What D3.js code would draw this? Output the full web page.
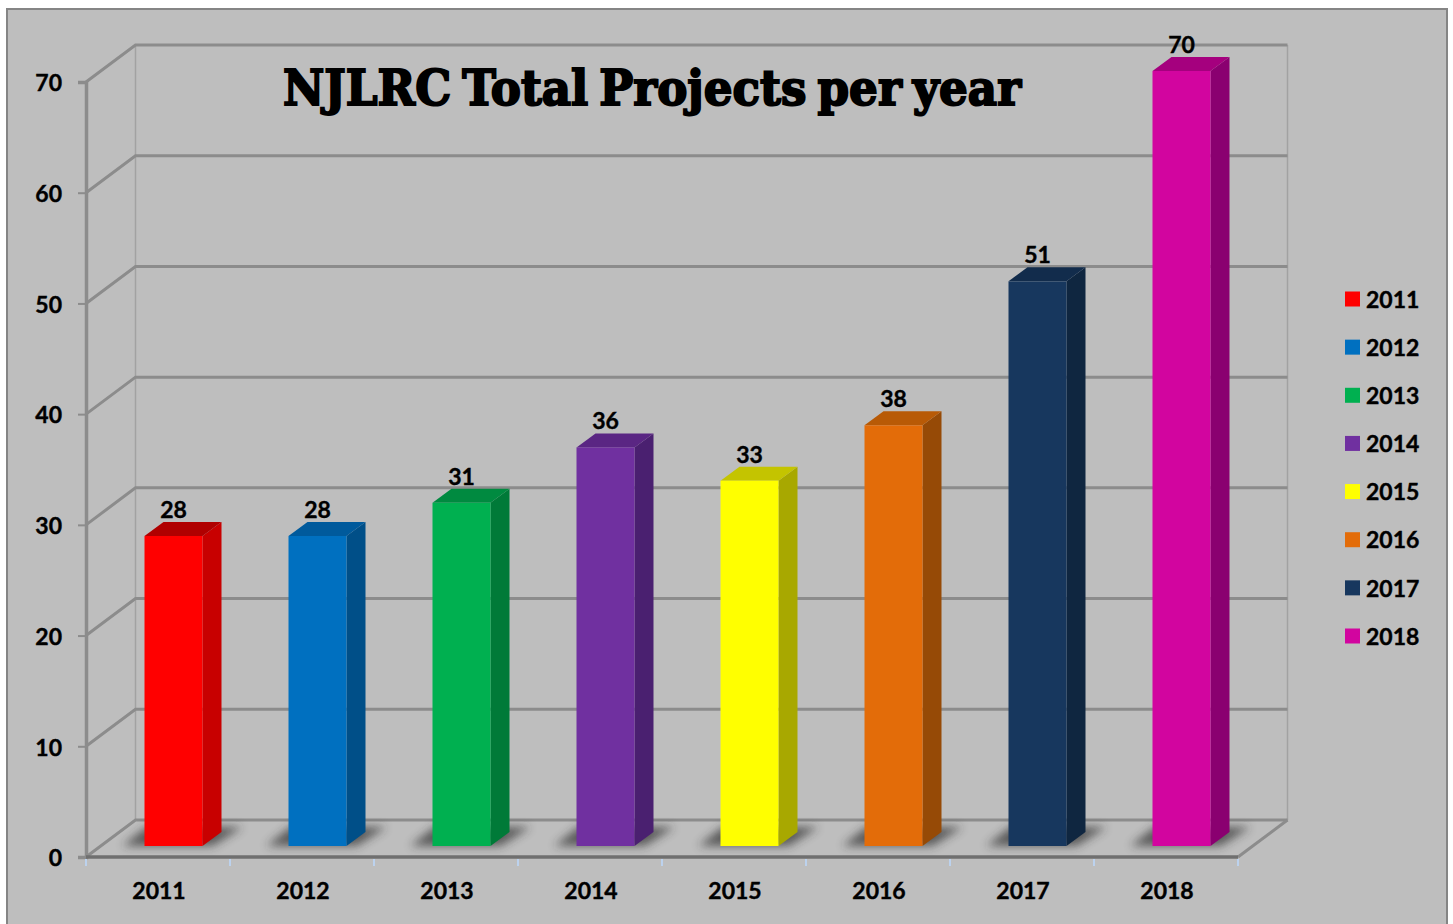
<!DOCTYPE html>
<html>
<head>
<meta charset="utf-8">
<title>NJLRC Total Projects per year</title>
<script src="https://cdn.jsdelivr.net/npm/d3@7"></script>
<style>
  html, body { margin: 0; padding: 0; background: #fff; overflow: hidden; }
  svg { display: block; }
  text { font-family: Lato, "Open Sans", sans-serif; font-weight: 700; fill: #000; stroke: #000; stroke-width: 0.4px; }
</style>
</head>
<body>
<svg id="chart"></svg>
<script>
const years = ["2011", "2012", "2013", "2014", "2015", "2016", "2017", "2018"];
const projects = [28, 28, 31, 36, 33, 38, 51, 70];
const colors = ["#ff0000", "#0070c0", "#00b050", "#7030a0", "#ffff00", "#e36c09", "#17375e", "#d2059f"];
const sideColors = ["#c80000", "#004f88", "#007a38", "#4a2070", "#a8a800", "#964a06", "#0f2640", "#8a0070"];
const topColors = ["#b00000", "#005a9c", "#008a40", "#5a2683", "#c4c400", "#b85a06", "#122c4c", "#a5007e"];
const yTicks = [0, 10, 20, 30, 40, 50, 60, 70];
const chartTitle = "NJLRC Total Projects per year";

const width = 1453, height = 924;
const svg = d3.select("#chart").attr("width", width).attr("height", height);

// Front plane of the fake 3D box, and how far the back wall is shifted
const plot = { left: 86, right: 1238, top: 82, bottom: 857 };
const wall = { dx: 49.5, dy: -37 };
const barOffset = { dx: 14, dy: -11 };  // bars stand a bit inside the floor
const barDepth = { dx: 19, dy: -14 };
const barWidth = 58;

const x = d3.scaleBand().domain(years).range([plot.left, plot.right]);
const y = d3.scaleLinear().domain([0, 70]).range([plot.bottom, plot.top]);

const defs = svg.append("defs");
defs.append("filter").attr("id", "blur")
  .attr("x", "-30%").attr("y", "-60%").attr("width", "160%").attr("height", "220%")
  .append("feGaussianBlur").attr("stdDeviation", 5);

// Background and frame
svg.append("rect")
  .attr("x", 7).attr("y", 9)
  .attr("width", 1440).attr("height", 930)
  .attr("fill", "#bebebe")
  .attr("stroke", "#858585")
  .attr("stroke-width", 2);

const grid = svg.append("g");
const gridColor = "#8c8c8c";

// Back wall edges
[plot.left + wall.dx, plot.right + wall.dx].forEach(px => {
  grid.append("line")
    .attr("x1", px).attr("x2", px)
    .attr("y1", y(70) + wall.dy).attr("y2", y(0) + wall.dy)
    .attr("stroke", "#a2a2a2").attr("stroke-width", 1.5);
});

// Gridlines on back wall and left wall
yTicks.forEach(t => {
  grid.append("polyline")
    .attr("points", [
      [plot.left, y(t)],
      [plot.left + wall.dx, y(t) + wall.dy],
      [plot.right + wall.dx, y(t) + wall.dy]
    ].join(" "))
    .attr("fill", "none")
    .attr("stroke", gridColor)
    .attr("stroke-width", 3);
});

// Floor right edge
grid.append("line")
  .attr("x1", plot.right).attr("y1", y(0))
  .attr("x2", plot.right + wall.dx).attr("y2", y(0) + wall.dy)
  .attr("stroke", gridColor).attr("stroke-width", 3);

// Y axis
const yAxis = svg.append("g")
  .attr("transform", `translate(${plot.left},0)`)
  .call(d3.axisLeft(y).tickValues(yTicks).tickSize(8).tickPadding(16));
yAxis.select(".domain").attr("stroke", gridColor).attr("stroke-width", 3.5);
yAxis.selectAll(".tick line").attr("stroke", gridColor).attr("stroke-width", 2);
yAxis.selectAll(".tick text").style("font-size", "23px").attr("dy", "0.38em");

// Shadows on the floor
const barX = d => x(d) + (x.bandwidth() - barWidth) / 2 + barOffset.dx + 1.5;
const floorY = y(0) + barOffset.dy;

svg.append("g").selectAll("path")
  .data(years)
  .join("path")
  .attr("d", d => {
    const x0 = barX(d);
    return `M${x0 - 22},${floorY} L${x0 + barWidth + 10},${floorY} L${x0 + barWidth + 40},${floorY - 19} L${x0 + 2},${floorY - 19} Z`;
  })
  .attr("fill", "#2a2a2a")
  .attr("opacity", 0.68)
  .attr("filter", "url(#blur)");

// Floor front edge sits above the shadows
svg.append("line")
  .attr("x1", plot.left).attr("x2", plot.right)
  .attr("y1", y(0)).attr("y2", y(0))
  .attr("stroke", "#6f6f6f").attr("stroke-width", 3.5);

// Ticks between the categories
svg.append("g").selectAll("line")
  .data(years.concat("end"))
  .join("line")
  .attr("x1", d => d === "end" ? plot.right : x(d))
  .attr("x2", d => d === "end" ? plot.right : x(d))
  .attr("y1", y(0) + 2).attr("y2", y(0) + 9)
  .attr("stroke", "#bcd2ee").attr("stroke-width", 2);

// X axis labels
const xAxis = svg.append("g")
  .attr("transform", `translate(1,${plot.bottom})`)
  .call(d3.axisBottom(x).tickSize(0).tickPadding(26));
xAxis.select(".domain").remove();
xAxis.selectAll(".tick text").style("font-size", "23px");

// Bars: side, top, then front face
const bars = svg.append("g").selectAll("g")
  .data(years.map((year, i) => ({ year, value: projects[i], color: colors[i], side: sideColors[i], top: topColors[i] })))
  .join("g");

bars.append("path")
  .attr("d", d => {
    const r = barX(d.year) + barWidth, t = y(d.value) + barOffset.dy;
    return `M${r},${t} L${r + barDepth.dx},${t + barDepth.dy} L${r + barDepth.dx},${floorY + barDepth.dy} L${r},${floorY} Z`;
  })
  .attr("fill", d => d.side);

bars.append("path")
  .attr("d", d => {
    const l = barX(d.year), t = y(d.value) + barOffset.dy;
    return `M${l},${t} L${l + barDepth.dx},${t + barDepth.dy} L${l + barWidth + barDepth.dx},${t + barDepth.dy} L${l + barWidth},${t} Z`;
  })
  .attr("fill", d => d.top);

bars.append("rect")
  .attr("x", d => barX(d.year))
  .attr("y", d => y(d.value) + barOffset.dy)
  .attr("width", barWidth)
  .attr("height", d => y(0) - y(d.value))
  .attr("fill", d => d.color);

// Value labels
bars.append("text")
  .attr("x", d => barX(d.year) + barWidth / 2)
  .attr("y", d => y(d.value) + barOffset.dy + barDepth.dy - 4)
  .attr("text-anchor", "middle")
  .style("font-size", "23px")
  .text(d => d.value);

// Title
svg.append("text")
  .attr("x", 652).attr("y", 105)
  .attr("text-anchor", "middle")
  .attr("textLength", 738)
  .attr("lengthAdjust", "spacingAndGlyphs")
  .style("font-family", "'DejaVu Serif', serif")
  .style("font-size", "48px")
  .style("font-weight", 700)
  .style("word-spacing", "-5px")
  .style("stroke", "#000")
  .style("stroke-width", "2px")
  .text(chartTitle);

// Legend
const legendY = d3.scalePoint().domain(years).range([299, 636]);
const legend = svg.append("g").selectAll("g")
  .data(years)
  .join("g")
  .attr("transform", d => `translate(1345,${legendY(d)})`);

legend.append("rect")
  .attr("y", -7.5)
  .attr("width", 15).attr("height", 15)
  .attr("fill", (d, i) => colors[i]);

legend.append("text")
  .attr("x", 21)
  .attr("dy", "0.38em")
  .style("font-size", "23px")
  .text(d => d);
</script>
</body>
</html>
